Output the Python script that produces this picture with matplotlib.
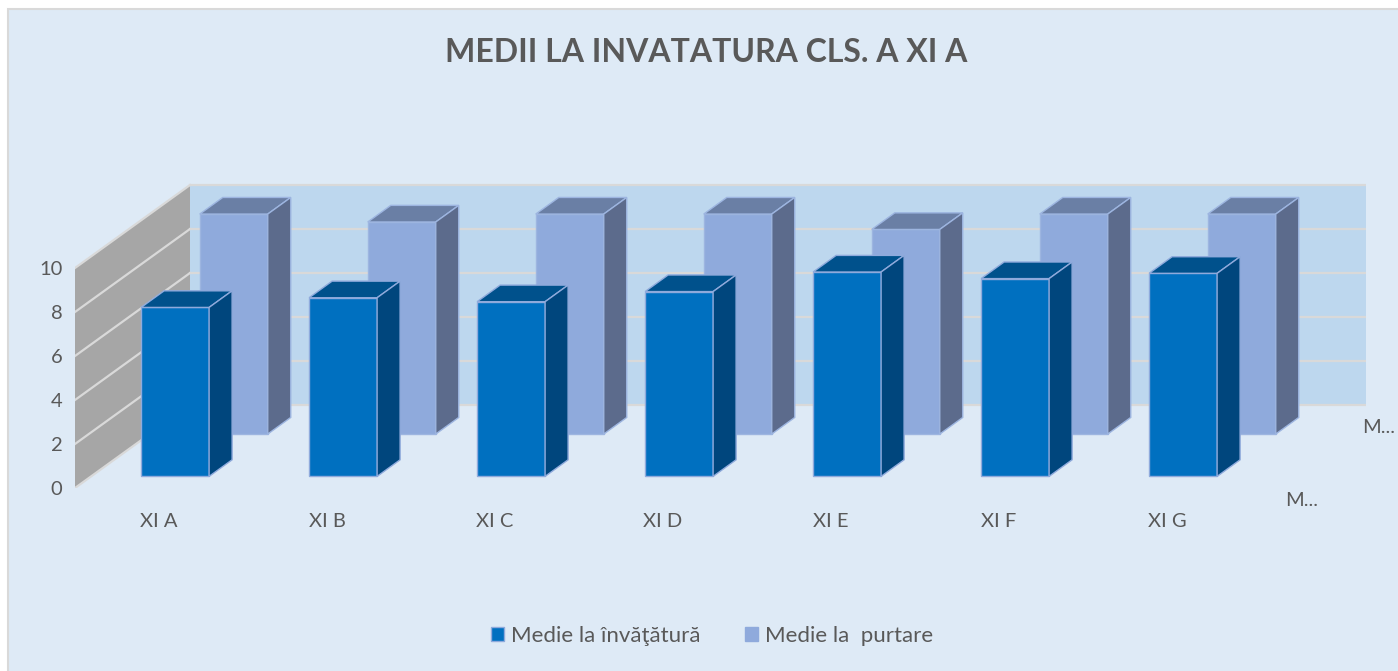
import matplotlib
matplotlib.use("Agg")
import matplotlib.pyplot as plt
from matplotlib.patches import Polygon, Rectangle, Patch

plt.rcParams["font.family"] = ["Lato", "DejaVu Sans"]

categories = ["XI A", "XI B", "XI C", "XI D", "XI E", "XI F", "XI G"]
medie_invatatura = [7.68, 8.12, 7.94, 8.40, 9.29, 8.99, 9.23]
medie_purtare = [10.0, 9.64, 10.0, 10.0, 9.30, 10.0, 10.0]
series_names = ["Medie la învăţătură", "Medie la  purtare"]
y_ticks = [0, 2, 4, 6, 8, 10]
title = "MEDII LA INVATATURA CLS. A XI A"

W, H = 1398, 671
TXT = "#595959"
BG = "#DEEAF6"
WALL = "#BDD7EE"
SIDE_WALL = "#A6A6A6"
GRID = "#D9D9D9"

# pixel geometry of the oblique 3d box (front plane origin at 75, 488)
PX_CAT, PX_VAL = 168, 22
DEPTH_PX = (115, 83)
DX = DEPTH_PX[0] / PX_CAT
DY = DEPTH_PX[1] / PX_VAL
HALF = 0.2024
YMAX = y_ticks[-1]
NCAT = len(categories)


def proj(x, y, z):
    return x + z * DX, y + z * DY


def quad(pts, **kw):
    return Polygon([proj(*p) for p in pts], closed=True, **kw)


def draw_bar(ax, c, v, z0, z1, face, top, side, edge, zo):
    x0, x1 = c - HALF, c + HALF
    bx, by = proj(x0, 0, z0)
    ax.bar(bx, v, width=2 * HALF, bottom=by, align="edge", color=face,
           edgecolor=edge, linewidth=1, zorder=zo)
    ax.add_patch(quad([(x0, v, z0), (x1, v, z0), (x1, v, z1), (x0, v, z1)],
                      facecolor=top, edgecolor=edge, linewidth=1, zorder=zo))
    ax.add_patch(quad([(x1, 0, z0), (x1, 0, z1), (x1, v, z1), (x1, v, z0)],
                      facecolor=side, edgecolor=edge, linewidth=1, zorder=zo))


fig = plt.figure(figsize=(W / 100, H / 100), dpi=100, facecolor="white")
fig.patches.append(Rectangle((8 / W, -0.1), 1.2, (H - 9) / H + 0.1,
                             transform=fig.transFigure, facecolor=BG,
                             edgecolor=GRID, linewidth=1.5, zorder=-1))

ax = fig.add_axes([75 / W, (H - 488) / H, (NCAT * PX_CAT + DEPTH_PX[0]) / W, 305 / H])
ax.set_xlim(0, (NCAT * PX_CAT + DEPTH_PX[0]) / PX_CAT)
ax.set_ylim(0, 305 / PX_VAL)
ax.patch.set_visible(False)
for s in ax.spines.values():
    s.set_visible(False)

# walls
ax.add_patch(quad([(0, 0, 1), (NCAT, 0, 1), (NCAT, YMAX, 1), (0, YMAX, 1)],
                  facecolor=WALL, edgecolor="none", zorder=1))
ax.add_patch(quad([(0, 0, 0), (0, 0, 1), (0, YMAX, 1), (0, YMAX, 0)],
                  facecolor=SIDE_WALL, edgecolor="none", zorder=1))
for v in y_ticks:
    xa, ya = proj(0, v, 1)
    xb, yb = proj(NCAT, v, 1)
    ax.plot([xa, xb], [ya, yb], color=GRID, lw=1.6, zorder=2)
    xc, yc = proj(0, v, 0)
    ax.plot([xc, xa], [yc, ya], color=GRID, lw=1.6, zorder=2)

# bars: back series first, then front series
for i, v in enumerate(medie_purtare):
    draw_bar(ax, i + 0.5, v, 0.65, 0.85, "#8FAADC", "#6A7FA5", "#5C6B8C",
             "#9DB5E0", 3)
for i, v in enumerate(medie_invatatura):
    draw_bar(ax, i + 0.5, v, 0.14, 0.34, "#0070C0", "#00518C", "#00467D",
             "#8FAADC", 5)

ax.set_yticks(y_ticks)
ax.set_yticklabels([str(t) for t in y_ticks])
ax.set_xticks([i + 0.5 for i in range(NCAT)])
ax.set_xticklabels(categories)
ax.tick_params(axis="y", length=0, pad=9, labelsize=14.5, labelcolor=TXT)
ax.tick_params(axis="x", length=0, pad=18, labelsize=14.5, labelcolor=TXT)

# depth (series) axis labels, truncated as in the original
for z, dxo, dyo in [(0.24, 5, -23), (0.75, 18, -1)]:
    px, py = proj(NCAT, 0, z)
    ax.annotate("M...", (px, py), xytext=(dxo, dyo), textcoords="offset points",
                ha="left", va="center", fontsize=14.5, color=TXT, annotation_clip=False)

fig.text(706 / W, 1 - 53 / H, title, ha="center", va="center",
         fontsize=23, fontweight="bold", color=TXT)

handles = [Patch(facecolor="#0070C0", edgecolor="#8FAADC", label=series_names[0]),
           Patch(facecolor="#8FAADC", edgecolor="#8FAADC", label=series_names[1])]
fig.legend(handles=handles, loc="center", bbox_to_anchor=(712 / W, 1 - 636 / H),
           ncol=2, frameon=False, fontsize=16, labelcolor=TXT,
           handlelength=0.6, handleheight=0.6, handletextpad=0.3, columnspacing=2.0)

fig.savefig("out.png", dpi=100)
